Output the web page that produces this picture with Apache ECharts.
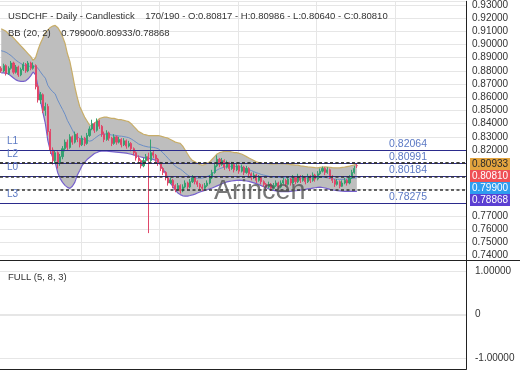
<!DOCTYPE html>
<html><head><meta charset="utf-8">
<script src="https://cdn.jsdelivr.net/npm/echarts@6/dist/echarts.min.js"></script>
<style>html,body{margin:0;padding:0;background:#fff}#c{width:520px;height:390px}</style>
</head><body><div id="c"></div>
<script>
const headerText = 'USDCHF - Daily - Candlestick    170/190 - O:0.80817 - H:0.80986 - L:0.80640 - C:0.80810';
const bbTitle = 'BB (20, 2)';
const oscTitle = 'FULL (5, 8, 3)';
const watermark = 'Arincen';
const totalSlots = 190;

// [open, close, low, high]
const ohlc = [
[0.882,0.880,0.8785,0.8835],[0.880,0.884,0.879,0.8855],[0.884,0.878,0.8765,0.885],[0.878,0.882,0.877,0.8835],
[0.882,0.886,0.881,0.8875],[0.886,0.879,0.8775,0.887],[0.879,0.883,0.878,0.8845],[0.883,0.877,0.8755,0.884],
[0.877,0.881,0.876,0.8825],[0.881,0.885,0.880,0.8865],[0.885,0.880,0.8785,0.886],[0.880,0.886,0.879,0.8875],
[0.886,0.882,0.8805,0.887],[0.882,0.884,0.881,0.8865],[0.884,0.868,0.866,0.885],[0.868,0.858,0.856,0.870],
[0.858,0.862,0.855,0.864],[0.862,0.850,0.848,0.863],[0.850,0.853,0.846,0.856],[0.853,0.834,0.831,0.855],
[0.834,0.820,0.817,0.836],[0.820,0.812,0.809,0.822],[0.812,0.818,0.810,0.820],[0.818,0.810,0.806,0.819],
[0.810,0.815,0.808,0.817],[0.815,0.821,0.813,0.823],[0.821,0.826,0.819,0.828],[0.826,0.822,0.820,0.828],
[0.822,0.830,0.821,0.832],[0.830,0.826,0.824,0.831],[0.826,0.832,0.825,0.834],[0.832,0.828,0.826,0.833],
[0.828,0.824,0.822,0.829],[0.824,0.829,0.823,0.831],[0.829,0.825,0.823,0.830],[0.825,0.831,0.824,0.833],
[0.831,0.836,0.830,0.838],[0.836,0.840,0.835,0.843],[0.840,0.835,0.833,0.841],[0.835,0.842,0.834,0.844],
[0.842,0.838,0.836,0.843],[0.838,0.832,0.830,0.839],[0.832,0.828,0.826,0.834],[0.828,0.833,0.827,0.835],
[0.833,0.829,0.827,0.834],[0.829,0.825,0.823,0.830],[0.825,0.830,0.824,0.832],[0.830,0.826,0.824,0.831],
[0.826,0.828,0.825,0.830],[0.828,0.824,0.822,0.829],[0.824,0.827,0.823,0.829],[0.827,0.823,0.821,0.828],
[0.823,0.825,0.822,0.827],[0.825,0.821,0.819,0.826],[0.821,0.818,0.816,0.822],[0.818,0.814,0.812,0.819],
[0.814,0.812,0.810,0.816],[0.812,0.808,0.806,0.813],[0.808,0.812,0.807,0.814],[0.812,0.815,0.810,0.817],
[0.815,0.812,0.757,0.818],[0.812,0.818,0.811,0.828],[0.818,0.816,0.814,0.820],[0.816,0.813,0.811,0.817],
[0.813,0.810,0.808,0.814],[0.810,0.806,0.804,0.811],[0.806,0.803,0.801,0.807],[0.803,0.799,0.797,0.804],
[0.799,0.795,0.793,0.800],[0.795,0.797,0.794,0.799],[0.797,0.793,0.791,0.798],[0.793,0.790,0.788,0.794],
[0.790,0.793,0.789,0.795],[0.793,0.789,0.787,0.794],[0.789,0.792,0.788,0.794],[0.792,0.795,0.791,0.797],
[0.795,0.792,0.790,0.796],[0.792,0.796,0.791,0.798],[0.796,0.799,0.795,0.801],[0.799,0.796,0.794,0.800],
[0.796,0.794,0.792,0.797],[0.794,0.792,0.790,0.795],[0.792,0.791,0.789,0.794],[0.791,0.793,0.790,0.795],
[0.793,0.795,0.792,0.797],[0.795,0.799,0.794,0.801],[0.799,0.803,0.798,0.805],[0.803,0.808,0.802,0.810],
[0.808,0.813,0.807,0.816],[0.813,0.809,0.807,0.814],[0.809,0.812,0.808,0.814],[0.812,0.807,0.805,0.813],
[0.807,0.810,0.806,0.812],[0.810,0.806,0.804,0.811],[0.806,0.809,0.805,0.811],[0.809,0.805,0.803,0.810],
[0.805,0.808,0.804,0.810],[0.808,0.804,0.802,0.809],[0.804,0.807,0.803,0.809],[0.807,0.803,0.801,0.808],
[0.803,0.806,0.802,0.808],[0.806,0.802,0.800,0.807],[0.802,0.799,0.797,0.803],[0.799,0.801,0.798,0.803],
[0.801,0.797,0.795,0.802],[0.797,0.799,0.796,0.801],[0.799,0.796,0.794,0.800],[0.796,0.794,0.792,0.797],
[0.794,0.792,0.790,0.795],[0.792,0.794,0.791,0.796],[0.794,0.791,0.789,0.795],[0.791,0.793,0.790,0.795],
[0.793,0.795,0.792,0.797],[0.795,0.792,0.790,0.796],[0.792,0.795,0.791,0.797],[0.795,0.797,0.794,0.799],
[0.797,0.794,0.792,0.798],[0.794,0.798,0.793,0.800],[0.798,0.795,0.793,0.799],[0.795,0.799,0.794,0.801],
[0.799,0.796,0.794,0.800],[0.796,0.800,0.795,0.802],[0.800,0.797,0.795,0.801],[0.797,0.799,0.796,0.801],
[0.799,0.796,0.794,0.800],[0.796,0.800,0.795,0.802],[0.800,0.797,0.795,0.801],[0.797,0.801,0.796,0.803],
[0.801,0.798,0.796,0.802],[0.798,0.802,0.797,0.804],[0.802,0.804,0.801,0.806],[0.804,0.806,0.803,0.8075],
[0.806,0.803,0.801,0.807],[0.803,0.805,0.802,0.807],[0.805,0.800,0.798,0.806],[0.800,0.797,0.795,0.801],
[0.797,0.794,0.792,0.798],[0.794,0.796,0.793,0.798],[0.796,0.7925,0.791,0.797],[0.7925,0.795,0.792,0.797],
[0.795,0.797,0.794,0.799],[0.797,0.795,0.793,0.798],[0.795,0.799,0.794,0.801],[0.799,0.803,0.798,0.805],
[0.803,0.806,0.802,0.808],[0.80817,0.80810,0.80640,0.80986]
];

const bbUpper = [0.912,0.911,0.910,0.908,0.907,0.905,0.903,0.901,0.899,0.897,0.895,0.893,0.891,0.888,0.890,0.896,
0.901,0.905,0.909,0.911,0.913,0.914,0.9145,0.913,0.910,0.906,0.901,0.893,0.887,0.878,0.868,0.860,0.853,0.849,0.845,
0.842,0.839,0.8385,0.840,0.842,0.8438,0.8445,0.845,0.845,0.8445,0.844,0.844,0.8435,0.843,0.843,0.8425,0.842,0.8415,
0.840,0.838,0.836,0.834,0.833,0.832,0.8315,0.831,0.831,0.831,0.831,0.831,0.8305,0.830,0.8295,0.829,0.828,0.827,0.826,
0.8255,0.825,0.823,0.820,0.817,0.814,0.812,0.811,0.810,0.809,0.8085,0.809,0.810,0.811,0.813,0.815,0.817,0.818,0.8185,
0.819,0.819,0.819,0.8185,0.818,0.818,0.8175,0.817,0.816,0.815,0.814,0.813,0.812,0.811,0.8105,0.810,0.8098,0.8098,
0.8096,0.8094,0.8094,0.8095,0.8096,0.8097,0.8096,0.8094,0.8092,0.809,0.8088,0.8086,0.8085,0.808,0.8078,0.8075,0.8072,
0.807,0.8068,0.8066,0.8065,0.8068,0.807,0.8072,0.807,0.8068,0.8066,0.8065,0.8064,0.8065,0.8068,0.807,0.8074,0.8078,
0.8083,0.8088,0.80933];

const bbMid = [0.8953,0.8948,0.8941,0.8929,0.8916,0.8899,0.8881,0.8868,0.8856,0.8846,0.8838,0.8835,0.8836,0.8836,0.8835,
0.8820,0.8792,0.8767,0.8745,0.8691,0.8663,0.8642,0.8626,0.858,0.8543,0.8508,0.8471,0.8424,0.839,0.8353,0.8318,0.8304,
0.8288,0.8287,0.8278,0.8274,0.8267,0.8272,0.8287,0.8301,0.8314,0.8319,0.8322,0.8321,0.8318,0.8314,0.8313,0.831,0.8306,
0.8305,0.8302,0.8298,0.8294,0.8284,0.8272,0.8259,0.8246,0.8239,0.8232,0.8227,0.8223,0.8222,0.822,0.8216,0.821,0.8195,
0.8178,0.8158,0.8138,0.8118,0.8095,0.8078,0.8065,0.8056,0.8042,0.8025,0.8011,0.7998,0.799,0.7988,0.7987,0.7986,0.7987,
0.7992,0.8,0.8008,0.8021,0.8035,0.8049,0.8058,0.8065,0.8071,0.8074,0.8076,0.8075,0.8074,0.8075,0.8074,0.807,0.8064,
0.8058,0.8051,0.8044,0.8036,0.8028,0.8022,0.8015,0.801,0.8006,0.8001,0.7997,0.7994,0.7993,0.7992,0.7991,0.799,0.7989,
0.7989,0.7989,0.7989,0.7989,0.7989,0.7988,0.7989,0.7989,0.7989,0.7989,0.799,0.799,0.7991,0.7993,0.7993,0.7992,0.7989,
0.7985,0.7982,0.798,0.7978,0.7978,0.7978,0.7979,0.798,0.7982,0.7985,0.7987,0.79900];

const bbLower = [0.8785,0.8785,0.8781,0.8777,0.8762,0.8747,0.8732,0.8725,0.8721,0.8721,0.8725,0.8740,0.8762,0.8792,0.8770,
0.8679,0.8574,0.8483,0.8400,0.8272,0.8196,0.8143,0.8106,0.8030,0.7985,0.7955,0.7932,0.7917,0.7909,0.7925,0.7955,0.8008,
0.8045,0.8083,0.8106,0.8128,0.8143,0.8158,0.8174,0.8181,0.819,0.8192,0.8193,0.8192,0.819,0.8188,0.8186,0.8184,0.8182,
0.818,0.8178,0.8176,0.8172,0.8168,0.8163,0.8157,0.8151,0.8147,0.8143,0.8139,0.8136,0.8133,0.8129,0.8121,0.811,0.8085,
0.8055,0.802,0.7985,0.7955,0.792,0.7895,0.7875,0.7862,0.7853,0.7850,0.7851,0.7855,0.7860,0.7866,0.7874,0.7882,0.7888,
0.7894,0.7899,0.7905,0.7912,0.7920,0.7928,0.7936,0.7944,0.7952,0.7958,0.7962,0.7965,0.7968,0.7970,0.7972,0.7970,0.7968,
0.7965,0.7962,0.7957,0.7951,0.7945,0.7938,0.7930,0.7922,0.7914,0.7906,0.7899,0.7894,0.789,0.7887,0.7885,0.7884,0.7884,
0.7885,0.7887,0.7889,0.7891,0.7893,0.7896,0.7899,0.7902,0.7905,0.7908,0.7911,0.7914,0.7917,0.7918,0.7916,0.7912,0.7907,
0.7902,0.7898,0.7895,0.7892,0.7890,0.7888,0.7887,0.7886,0.7886,0.7886,0.7886,0.78868];

const levelNames = ['L1','L2','L0','L3'];
const levelValues = [0.82064, 0.80991, 0.80184, 0.78275];
const tagValues = [0.80933, 0.80810, 0.79900, 0.78868];
const tagColors = ['#e3a43e','#ef4f55','#2f9cf0','#5b3fd2'];
const tagTextColors = ['#2a2a2a','#ffffff','#ffffff','#ffffff'];
const oscTicks = [-1, 0, 1];
const oscMin = -1, oscMax = 1, oscStep = 1;

const categories = [];
for (let i = 0; i < totalSlots; i++) categories.push(String(i + 1));

const FONT = 'Liberation Sans, Arial, sans-serif';
const fmt5 = v => (v === 0 ? '0' : v.toFixed(5));
const PANE_TOP = 260, PANE_BOTTOM = 369, PLOT_RIGHT = 466;

const markData = [];
levelValues.forEach((v, k) => {
  markData.push({ yAxis: v, label: { show: true, position: 'insideStartTop', formatter: levelNames[k], distance: [7, 4], color: '#5b79c4', fontSize: 10, fontFamily: FONT } });
  markData.push({ yAxis: v, label: { show: true, position: 'insideEndTop', formatter: v.toFixed(5), distance: [39, 0.5], color: '#5b79c4', fontSize: 10.5, fontFamily: FONT } });
});
tagValues.forEach(v => {
  markData.push({ yAxis: v, lineStyle: { type: [3, 2.5], color: '#333', width: 1.6 }, label: { show: false } });
});

const bandWidthData = bbUpper.map((u, i) => +(u - bbLower[i]).toFixed(5));

const chart = echarts.init(document.getElementById('c'), null, { renderer: 'canvas' });
const titleStyle = { fontSize: 9.5, fontWeight: 'normal', color: '#333', fontFamily: FONT };
const option = {
  animation: false,
  backgroundColor: '#ffffff',
  textStyle: { fontFamily: FONT },
  title: [
    { text: headerText, left: 3, top: 6, textStyle: titleStyle },
    { text: bbTitle + '    ' + bbMid[bbMid.length - 1].toFixed(5) + '/' + bbUpper[bbUpper.length - 1].toFixed(5) + '/' + bbLower[bbLower.length - 1].toFixed(5),
      left: 3, top: 23, textStyle: titleStyle },
    { text: oscTitle, left: 3, top: 267, textStyle: titleStyle }
  ],
  grid: [
    { left: 0, right: 54, top: 0, height: 260 },
    { left: 0, right: 54, top: 271, height: 87 }
  ],
  xAxis: [
    { type: 'category', gridIndex: 0, data: categories, boundaryGap: true,
      axisLine: { show: false }, axisTick: { show: false }, axisLabel: { show: false },
      splitLine: { show: true, interval: (idx) => idx > 1 && idx % 32 === 1, lineStyle: { color: '#e6e6e6', width: 1 } } },
    { type: 'category', gridIndex: 1, data: categories, boundaryGap: true, position: 'bottom', offset: 11,
      axisLine: { show: true, onZero: false, lineStyle: { color: '#222', width: 1 } }, axisTick: { show: false }, axisLabel: { show: false },
      splitLine: { show: false } }
  ],
  yAxis: [
    { type: 'value', gridIndex: 0, position: 'right', min: 0.7366, max: 0.9328, splitNumber: 20, scale: true,
      axisLine: { show: true, lineStyle: { color: '#222', width: 1 } }, axisTick: { show: false },
      axisLabel: { show: true, margin: 6, fontSize: 10, color: '#333', fontFamily: FONT, formatter: fmt5 },
      splitLine: { show: true, lineStyle: { color: '#e6e6e6', width: 1 } } },
    { type: 'value', gridIndex: 1, position: 'right', min: oscMin, max: oscMax, interval: oscStep,
      axisLine: { show: false }, axisTick: { show: false },
      axisLabel: { show: true, margin: 9, fontSize: 10, color: '#333', fontFamily: FONT, formatter: fmt5 },
      splitLine: { show: true, lineStyle: { color: '#e6e6e6', width: 1 } } }
  ],
  series: [
    { name: 'bandBase', type: 'line', xAxisIndex: 0, yAxisIndex: 0, data: bbLower, stack: 'bb', symbol: 'none', silent: true,
      lineStyle: { opacity: 0 }, z: 1 },
    { name: 'bandFill', type: 'line', xAxisIndex: 0, yAxisIndex: 0, data: bandWidthData, stack: 'bb', symbol: 'none', silent: true,
      lineStyle: { opacity: 0 }, areaStyle: { color: '#bebebe', opacity: 1 }, z: 1 },
    { name: 'BB upper', type: 'line', data: bbUpper, symbol: 'none', silent: true, lineStyle: { color: '#c8ad68', width: 1.2 }, z: 2 },
    { name: 'BB mid', type: 'line', data: bbMid, symbol: 'none', silent: true, lineStyle: { color: '#6b8ec6', width: 1 }, z: 2 },
    { name: 'BB lower', type: 'line', data: bbLower, symbol: 'none', silent: true, lineStyle: { color: '#7660cc', width: 1.2 }, z: 2 },
    { name: 'USDCHF', type: 'candlestick', xAxisIndex: 0, yAxisIndex: 0, data: ohlc, barWidth: '65%', z: 5,
      itemStyle: { color: '#35a172', color0: '#e0476a', borderColor: '#35a172', borderColor0: '#e0476a', borderWidth: 1 },
      markLine: { silent: true, symbol: ['none', 'none'], animation: false, z: 6,
        lineStyle: { type: 'solid', color: '#2b2b8c', width: 1.2 }, data: markData } }
  ]
};
chart.setOption(option);

const graphics = [
  { type: 'line', shape: { x1: 0, y1: PANE_TOP + 0.5, x2: 520, y2: PANE_TOP + 0.5 }, style: { stroke: '#222', lineWidth: 1 }, z: 90 },
  { type: 'text', x: 214, y: 192, z: 95, style: { text: watermark, fill: 'rgba(85,85,85,0.8)', font: '27px ' + FONT, align: 'left', verticalAlign: 'middle' } }
];
let prevY = -Infinity;
tagValues.forEach((v, k) => {
  let y = chart.convertToPixel({ yAxisIndex: 0 }, v);
  y = Math.max(y, prevY + 12);
  prevY = y;
  graphics.push({ type: 'rect', z: 100, shape: { x: 470, y: y - 6, width: 40, height: 12 }, style: { fill: tagColors[k] } });
  graphics.push({ type: 'text', z: 101, x: 490, y: y, style: { text: v.toFixed(5), fill: tagTextColors[k], font: '10px ' + FONT, align: 'center', verticalAlign: 'middle' } });
});
chart.setOption({ graphic: graphics });

// Lower-pane frame and level lines drawn directly on the renderer, positioned through the pane's y axis.
const zr = chart.getZr();
const G = echarts.graphic;
oscTicks.forEach(v => {
  let y = chart.convertToPixel({ yAxisIndex: 1 }, v);
  if (typeof y !== 'number' || !isFinite(y)) y = 271 + (oscMax - v) / (oscMax - oscMin) * 87;
  y = Math.round(y) + 0.5;
  zr.add(new G.Line({ z: 50, shape: { x1: 0, y1: y, x2: PLOT_RIGHT, y2: y }, style: { stroke: '#e6e6e6', lineWidth: 1 } }));
});
zr.add(new G.Line({ z: 60, shape: { x1: 0, y1: PANE_BOTTOM + 0.5, x2: PLOT_RIGHT + 0.5, y2: PANE_BOTTOM + 0.5 }, style: { stroke: '#222', lineWidth: 1 } }));
zr.add(new G.Line({ z: 60, shape: { x1: PLOT_RIGHT + 0.5, y1: PANE_TOP, x2: PLOT_RIGHT + 0.5, y2: PANE_BOTTOM + 0.5 }, style: { stroke: '#222', lineWidth: 1 } }));
zr.refreshImmediately && zr.refreshImmediately();
</script></body></html>
